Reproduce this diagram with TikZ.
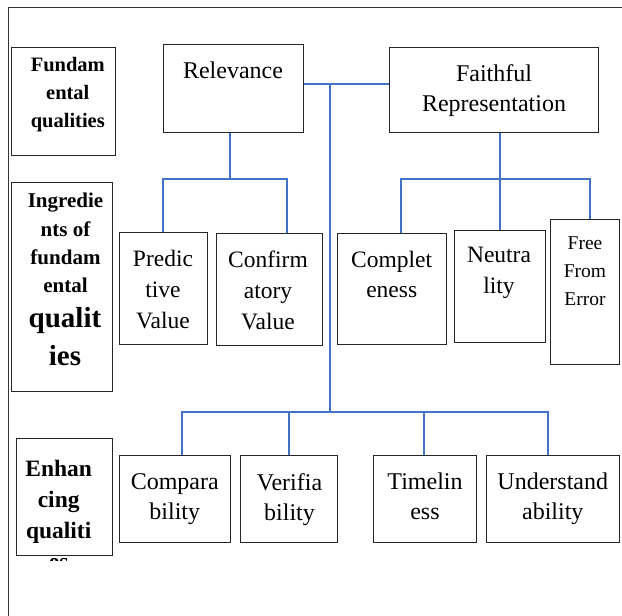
\documentclass[tikz,border=0pt]{standalone}
\usepackage{fontspec}
\setmainfont{Liberation Serif}
\definecolor{linkblue}{RGB}{68,114,196}
\begin{document}
\begin{tikzpicture}[x=1pt,y=-1pt,
 box/.style={draw=black!85,line width=0.9pt,inner sep=0,anchor=north west},
 txt/.style={inner sep=0,anchor=north,align=center,font=\fontsize{24}{31}\selectfont},
 btxt/.style={inner sep=0,anchor=north,align=center,font=\bfseries\fontsize{21}{28.3}\selectfont},
 conn/.style={draw=linkblue,line width=1.3pt}]
\fill[white] (0,0) rectangle (622,616);
\useasboundingbox (0,0) rectangle (622,616);
\draw[black!80,line width=0.9pt] (8,616) -- (8,7) -- (622,7);

% boxes
\node[box,minimum width=104pt,minimum height=108pt] (fq) at (11,47) {};
\node[box,minimum width=140pt,minimum height=88pt] (rel) at (163,44) {};
\node[box,minimum width=209pt,minimum height=85pt] (fr) at (389,47) {};
\node[box,minimum width=101pt,minimum height=209pt] (ing) at (11,182) {};
\node[box,minimum width=88pt,minimum height=112pt] (pred) at (119,232) {};
\node[box,minimum width=106pt,minimum height=112pt] (conf) at (216,233) {};
\node[box,minimum width=109pt,minimum height=111pt] (compl) at (337,233) {};
\node[box,minimum width=91pt,minimum height=112pt] (neut) at (454,230) {};
\node[box,minimum width=69pt,minimum height=145pt] (free) at (550,219) {};
\node[box,minimum width=96pt,minimum height=117pt] (enh) at (16,438) {};
\node[box,minimum width=111pt,minimum height=87pt] (comp) at (119,455) {};
\node[box,minimum width=97pt,minimum height=87pt] (verif) at (240,455) {};
\node[box,minimum width=103pt,minimum height=87pt] (time) at (373,455) {};
\node[box,minimum width=133pt,minimum height=87pt] (und) at (486,455) {};

% texts
\node[btxt,font=\bfseries\fontsize{20.5}{28}\selectfont] (fqT) at (67.8,57) {Fundam\\ental\\qualities};
\node[txt] (relT) at (233,61.6) {Relevance};
\node[txt,font=\fontsize{24}{30}\selectfont] (frT) at (494,64.6) {Faithful\\Representation};
\node[btxt] (ingA) at (65.5,193) {Ingredie\\nts of\\fundam\\ental};
\node[btxt,font=\bfseries\fontsize{29}{38}\selectfont] (ingB) at (65,307) {qualit\\ies};
\node[txt,font=\fontsize{23.5}{31}\selectfont] (predT) at (163,250) {Predic\\tive\\Value};
\node[txt,font=\fontsize{23.5}{31}\selectfont] (confT) at (268,251) {Confirm\\atory\\Value};
\node[txt,font=\fontsize{23.5}{30}\selectfont] (complT) at (391.7,251) {Complet\\eness};
\node[txt,font=\fontsize{23.5}{31}\selectfont] (neutT) at (499,247) {Neutra\\lity};
\node[txt,font=\fontsize{19.5}{28}\selectfont] (freeT) at (585,237) {Free\\From\\Error};
\node[btxt,font=\bfseries\fontsize{23.5}{31}\selectfont] (enhT) at (58.7,460) {Enhan\\cing\\qualiti};
\begin{scope}
\clip (16,556) rectangle (112,560.5);
\node[btxt,font=\bfseries\fontsize{23.5}{31}\selectfont,anchor=base] (enhEs) at (58.7,569) {es};
\end{scope}
\node[txt,font=\fontsize{24}{30}\selectfont] (compT) at (174.8,473) {Compara\\bility};
\node[txt,font=\fontsize{24}{30}\selectfont] (verifT) at (289.5,473) {Verifia\\bility};
\node[txt,font=\fontsize{24}{30}\selectfont] (timeT) at (425,473) {Timelin\\ess};
\node[txt,font=\fontsize{24}{30}\selectfont] (undT) at (552.8,473) {Understand\\ability};

% connectors
\coordinate (top) at (330,84);
\coordinate (bot) at (330,412);
\draw[conn] (rel.east |- top) -- (fr.west |- top);
\draw[conn] (top) -- (bot);

\coordinate (rj) at (230,179);
\coordinate (rl) at (163,179);
\coordinate (rr) at (287,179);
\draw[conn] (rel.south -| rj) -- (rj);
\draw[conn] (rl |- pred.north) -- (rl) -- (rr) -- (rr |- conf.north);

\coordinate (fj) at (500,179);
\coordinate (fl) at (401,179);
\coordinate (fr2) at (590,179);
\draw[conn] (fr.south -| fj) -- (fj);
\draw[conn] (fl |- compl.north) -- (fl) -- (fr2) -- (fr2 |- free.north);
\draw[conn] (fj) -- (fj |- neut.north);

\coordinate (b1) at (182,412);
\coordinate (b2) at (289,412);
\coordinate (b3) at (424,412);
\coordinate (b4) at (548,412);
\draw[conn] (b1 |- comp.north) -- (b1) -- (b4) -- (b4 |- und.north);
\draw[conn] (b2) -- (b2 |- verif.north);
\draw[conn] (b3) -- (b3 |- time.north);
\end{tikzpicture}
\end{document}
